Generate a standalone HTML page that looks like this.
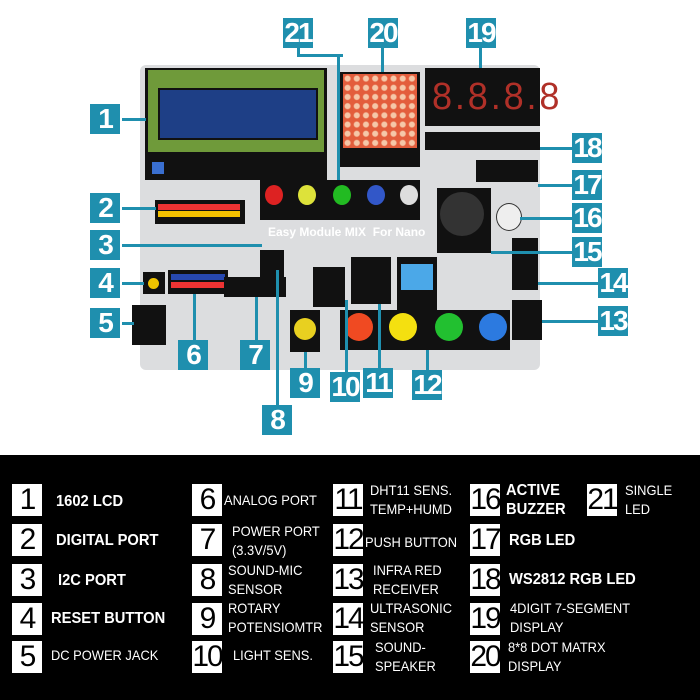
<!DOCTYPE html><html><head><style>
body{margin:0;width:700px;height:700px;position:relative;background:#fff;overflow:hidden;font-family:"Liberation Sans",sans-serif}
.a{position:absolute}
.t{position:absolute;width:30px;height:30px;background:#1f8fae;color:#fff;font-size:28px;text-align:center;line-height:30px;font-weight:bold;letter-spacing:-2px}
.ln{position:absolute;background:#1f8fae}
.k{position:absolute;background:#111}
.n{position:absolute;width:30px;height:32px;background:#fff;color:#000;font-size:30px;line-height:32px;text-align:center;letter-spacing:-2px}
.l{position:absolute;color:#fff;font-size:14px;line-height:19px;transform:scaleX(0.92);transform-origin:left}
.b{font-weight:bold;font-size:16px}
.c{position:absolute;border-radius:50%}
</style></head><body>
<div class="a" style="left:140px;top:65px;width:400px;height:305px;background:#dcdddf;border-radius:6px"></div>
<!-- LCD -->
<div class="k" style="left:145px;top:68px;width:182px;height:112px"></div>
<div class="a" style="left:148px;top:70px;width:176px;height:82px;background:#6f9a3a"></div>
<div class="a" style="left:158px;top:88px;width:156px;height:48px;background:#1e3f86;border:2px solid #111"></div>
<div class="a" style="left:152px;top:162px;width:12px;height:12px;background:#3a6fd0"></div>
<!-- matrix -->
<div class="k" style="left:340px;top:72px;width:80px;height:95px"></div>
<div class="a" style="left:343px;top:74px;width:74px;height:74px;background:radial-gradient(circle,#f5c7a8 2.5px,#e35d3c 3.5px);background-size:9.2px 9.2px"></div>
<!-- 7seg -->
<div class="k" style="left:425px;top:68px;width:115px;height:58px"></div>
<div class="a" style="left:432px;top:76px;color:#b03028;font-size:38px;font-family:'Liberation Sans';letter-spacing:3px;transform:scaleX(0.95);transform-origin:left">8.8.8.8</div>
<div class="k" style="left:425px;top:132px;width:115px;height:18px"></div>
<!-- LEDs -->
<div class="k" style="left:260px;top:180px;width:160px;height:40px"></div>
<div class="c" style="left:265px;top:185px;width:18px;height:20px;background:#d22"></div>
<div class="c" style="left:298px;top:185px;width:18px;height:20px;background:#dde23a"></div>
<div class="c" style="left:333px;top:185px;width:18px;height:20px;background:#2b2"></div>
<div class="c" style="left:367px;top:185px;width:18px;height:20px;background:#3257c8"></div>
<div class="c" style="left:400px;top:185px;width:18px;height:20px;background:#ddd"></div>
<!-- digital -->
<div class="k" style="left:155px;top:200px;width:90px;height:24px"></div>
<div class="a" style="left:158px;top:204px;width:82px;height:6px;background:#e33"></div>
<div class="a" style="left:158px;top:211px;width:82px;height:6px;background:#f3c000"></div>
<div class="a" style="left:268px;top:225px;color:#fff;font-weight:bold;font-size:12px">Easy Module MIX &nbsp;For Nano</div>
<!-- speaker -->
<div class="k" style="left:437px;top:188px;width:54px;height:65px"></div>
<div class="c" style="left:440px;top:192px;width:44px;height:44px;background:#333"></div>
<div class="c" style="left:496px;top:203px;width:24px;height:26px;background:#eee;border:1px solid #333"></div>
<div class="k" style="left:476px;top:160px;width:62px;height:22px"></div>
<!-- middle modules -->
<div class="k" style="left:260px;top:250px;width:24px;height:28px"></div>
<div class="k" style="left:168px;top:270px;width:60px;height:24px"></div>
<div class="a" style="left:171px;top:274px;width:54px;height:6px;background:#2748b0"></div>
<div class="a" style="left:171px;top:282px;width:54px;height:6px;background:#e33"></div>
<div class="k" style="left:224px;top:277px;width:62px;height:20px"></div>
<div class="k" style="left:143px;top:272px;width:22px;height:22px"></div>
<div class="c" style="left:148px;top:278px;width:11px;height:11px;background:#f0c400"></div>
<div class="k" style="left:132px;top:305px;width:34px;height:40px"></div>
<div class="k" style="left:313px;top:267px;width:32px;height:40px"></div>
<div class="k" style="left:351px;top:257px;width:40px;height:47px"></div>
<div class="k" style="left:397px;top:257px;width:40px;height:55px"></div>
<div class="a" style="left:401px;top:264px;width:32px;height:26px;background:#4ba8e8"></div>
<div class="k" style="left:290px;top:310px;width:30px;height:42px"></div>
<div class="c" style="left:294px;top:318px;width:22px;height:22px;background:#e8d020"></div>
<div class="k" style="left:340px;top:310px;width:170px;height:40px"></div>
<div class="c" style="left:345px;top:313px;width:28px;height:28px;background:#f04a22"></div>
<div class="c" style="left:389px;top:313px;width:28px;height:28px;background:#f4e010"></div>
<div class="c" style="left:435px;top:313px;width:28px;height:28px;background:#22c030"></div>
<div class="c" style="left:479px;top:313px;width:28px;height:28px;background:#2c7ae0"></div>
<div class="k" style="left:512px;top:300px;width:30px;height:40px"></div>
<div class="k" style="left:512px;top:238px;width:26px;height:52px"></div>
<!-- connectors -->
<div class="ln" style="left:122px;top:118px;width:24px;height:3px"></div>
<div class="ln" style="left:122px;top:207px;width:34px;height:3px"></div>
<div class="ln" style="left:122px;top:244px;width:140px;height:3px"></div>
<div class="ln" style="left:122px;top:282px;width:22px;height:3px"></div>
<div class="ln" style="left:122px;top:322px;width:12px;height:3px"></div>
<div class="ln" style="left:193px;top:294px;width:3px;height:46px"></div>
<div class="ln" style="left:255px;top:297px;width:3px;height:43px"></div>
<div class="ln" style="left:276px;top:270px;width:3px;height:135px"></div>
<div class="ln" style="left:297px;top:48px;width:3px;height:8px"></div>
<div class="ln" style="left:297px;top:54px;width:46px;height:3px"></div>
<div class="ln" style="left:337px;top:54px;width:3px;height:126px"></div>
<div class="ln" style="left:381px;top:48px;width:3px;height:24px"></div>
<div class="ln" style="left:479px;top:48px;width:3px;height:20px"></div>
<div class="ln" style="left:540px;top:147px;width:32px;height:3px"></div>
<div class="ln" style="left:538px;top:184px;width:34px;height:3px"></div>
<div class="ln" style="left:520px;top:217px;width:52px;height:3px"></div>
<div class="ln" style="left:491px;top:251px;width:81px;height:3px"></div>
<div class="ln" style="left:538px;top:282px;width:60px;height:3px"></div>
<div class="ln" style="left:542px;top:320px;width:56px;height:3px"></div>
<div class="ln" style="left:426px;top:350px;width:3px;height:20px"></div>
<div class="ln" style="left:345px;top:300px;width:3px;height:72px"></div>
<div class="ln" style="left:378px;top:304px;width:3px;height:64px"></div>
<div class="ln" style="left:304px;top:352px;width:3px;height:16px"></div>
<!-- labels -->
<div class="t" style="left:90px;top:104px">1</div>
<div class="t" style="left:90px;top:193px">2</div>
<div class="t" style="left:90px;top:230px">3</div>
<div class="t" style="left:90px;top:268px">4</div>
<div class="t" style="left:90px;top:308px">5</div>
<div class="t" style="left:178px;top:340px">6</div>
<div class="t" style="left:240px;top:340px">7</div>
<div class="t" style="left:262px;top:405px">8</div>
<div class="t" style="left:290px;top:368px">9</div>
<div class="t" style="left:330px;top:372px">10</div>
<div class="t" style="left:363px;top:368px">11</div>
<div class="t" style="left:412px;top:370px">12</div>
<div class="t" style="left:598px;top:306px">13</div>
<div class="t" style="left:598px;top:268px">14</div>
<div class="t" style="left:572px;top:237px">15</div>
<div class="t" style="left:572px;top:203px">16</div>
<div class="t" style="left:572px;top:170px">17</div>
<div class="t" style="left:572px;top:133px">18</div>
<div class="t" style="left:466px;top:18px">19</div>
<div class="t" style="left:368px;top:18px">20</div>
<div class="t" style="left:283px;top:18px">21</div>
<!-- legend -->
<div class="a" style="left:0;top:455px;width:700px;height:245px;background:#000"></div>
<div class="n" style="left:12px;top:484px">1</div><div class="l b" style="left:56px;top:492px">1602 LCD</div>
<div class="n" style="left:12px;top:524px">2</div><div class="l b" style="left:56px;top:531px">DIGITAL PORT</div>
<div class="n" style="left:12px;top:564px">3</div><div class="l b" style="left:58px;top:571px">I2C PORT</div>
<div class="n" style="left:12px;top:603px">4</div><div class="l b" style="left:51px;top:609px">RESET BUTTON</div>
<div class="n" style="left:12px;top:641px">5</div><div class="l" style="left:51px;top:646px">DC POWER JACK</div>
<div class="n" style="left:192px;top:484px">6</div><div class="l" style="left:224px;top:491px">ANALOG PORT</div>
<div class="n" style="left:192px;top:524px">7</div><div class="l" style="left:232px;top:522px">POWER PORT<br>(3.3V/5V)</div>
<div class="n" style="left:192px;top:564px">8</div><div class="l" style="left:228px;top:561px">SOUND-MIC<br>SENSOR</div>
<div class="n" style="left:192px;top:603px">9</div><div class="l" style="left:228px;top:599px">ROTARY<br>POTENSIOMTR</div>
<div class="n" style="left:192px;top:641px">10</div><div class="l" style="left:233px;top:646px">LIGHT SENS.</div>
<div class="n" style="left:333px;top:484px">11</div><div class="l" style="left:370px;top:481px">DHT11 SENS.<br>TEMP+HUMD</div>
<div class="n" style="left:333px;top:524px">12</div><div class="l" style="left:365px;top:533px">PUSH BUTTON</div>
<div class="n" style="left:333px;top:564px">13</div><div class="l" style="left:373px;top:561px">INFRA RED<br>RECEIVER</div>
<div class="n" style="left:333px;top:603px">14</div><div class="l" style="left:370px;top:599px">ULTRASONIC<br>SENSOR</div>
<div class="n" style="left:333px;top:641px">15</div><div class="l" style="left:375px;top:638px">SOUND-<br>SPEAKER</div>
<div class="n" style="left:470px;top:484px">16</div><div class="l b" style="left:506px;top:481px">ACTIVE<br>BUZZER</div>
<div class="n" style="left:470px;top:524px">17</div><div class="l b" style="left:509px;top:531px">RGB LED</div>
<div class="n" style="left:470px;top:564px">18</div><div class="l b" style="left:509px;top:570px">WS2812 RGB LED</div>
<div class="n" style="left:470px;top:603px">19</div><div class="l" style="left:510px;top:599px">4DIGIT 7-SEGMENT<br>DISPLAY</div>
<div class="n" style="left:470px;top:641px">20</div><div class="l" style="left:508px;top:638px">8*8 DOT MATRX<br>DISPLAY</div>
<div class="n" style="left:587px;top:484px">21</div><div class="l" style="left:625px;top:481px">SINGLE<br>LED</div>
</body></html>
